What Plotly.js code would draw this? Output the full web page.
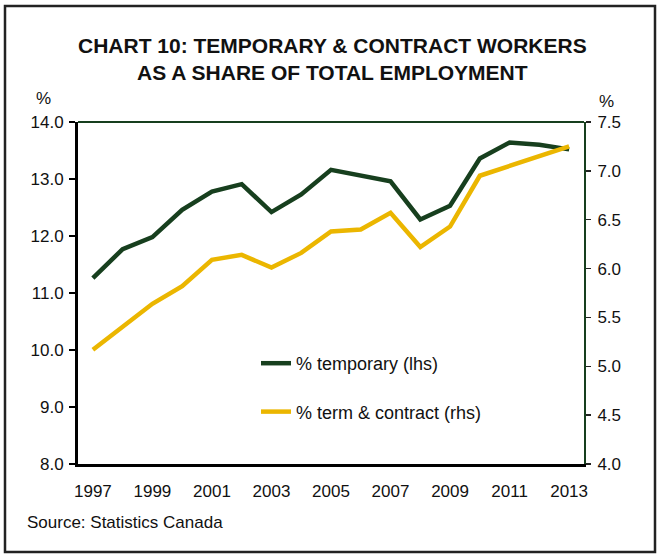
<!DOCTYPE html>
<html>
<head>
<meta charset="utf-8">
<script src="https://cdn.plot.ly/plotly-3.0.1.min.js"></script>
<style>html,body{margin:0;padding:0;background:#fff;}#chart{width:663px;height:556px;}</style>
</head>
<body>
<div id="chart"></div>
<script>
const years = [1997,1998,1999,2000,2001,2002,2003,2004,2005,2006,2007,2008,2009,2010,2011,2012,2013];
const temporary = [11.26,11.77,11.98,12.46,12.78,12.91,12.42,12.73,13.16,13.06,12.96,12.29,12.53,13.36,13.64,13.60,13.52];
const termContract = [5.17,5.41,5.64,5.82,6.09,6.14,6.01,6.16,6.38,6.40,6.57,6.22,6.43,6.95,7.05,7.16,7.25];
const xTicks = [1997,1999,2001,2003,2005,2007,2009,2011,2013];
const leftTicks = [8,9,10,11,12,13,14];
const rightTicks = [4.0,4.5,5.0,5.5,6.0,6.5,7.0,7.5];

const GREEN = '#173f1e';
const YELLOW = '#ebb600';
const W = 663, H = 556;
const L = 78, R = 79, T = 122, B = 92;
const pw = W - L - R, ph = H - T - B;
function px(x){ return (x - L) / pw; }
function py(y){ return (H - B - y) / ph; }

const font = {family: 'Liberation Sans, Arial, sans-serif', size: 17, color: '#111'};

const traces = [
  {x: years, y: temporary, type: 'scatter', mode: 'lines', name: '% temporary (lhs)',
   line: {color: GREEN, width: 4.5}, yaxis: 'y', legendgroup: 'a'},
  {x: years, y: termContract, type: 'scatter', mode: 'lines', name: '% term & contract (rhs)',
   line: {color: YELLOW, width: 4.5}, yaxis: 'y2', legendgroup: 'b'}
];

const layout = {
  width: W, height: H,
  margin: {l: L, r: R, t: T, b: B},
  paper_bgcolor: '#fff', plot_bgcolor: '#fff',
  font: font,
  showlegend: true,
  legend: {x: px(256), y: py(345), xanchor: 'left', yanchor: 'top',
           bgcolor: 'rgba(0,0,0,0)', font: {family: font.family, size: 18, color: '#111'},
           tracegroupgap: 22, itemwidth: 30},
  xaxis: {range: [1996.5, 2013.5], tickvals: xTicks, ticktext: xTicks.map(String),
          showgrid: false, zeroline: false, showline: true, linecolor: '#000', linewidth: 3,
          ticks: '', ticklabelstandoff: 10, tickfont: font, fixedrange: true},
  yaxis: {range: [8, 14], tickvals: leftTicks, ticktext: leftTicks.map(v => v.toFixed(1)),
          showgrid: false, zeroline: false, showline: true, linecolor: '#000', linewidth: 3,
          ticks: 'outside', ticklen: 6, tickwidth: 1.5, tickcolor: '#000', tickfont: font,
          ticklabelstandoff: 2},
  yaxis2: {range: [4, 7.5], tickvals: rightTicks, ticktext: rightTicks.map(v => v.toFixed(1)),
           overlaying: 'y', side: 'right', showgrid: false, zeroline: false,
           showline: true, linecolor: GREEN, linewidth: 2,
           ticks: 'outside', ticklen: 5, tickwidth: 1.5, tickcolor: '#222', tickfont: font,
           ticklabelstandoff: 3},
  yaxis3: {range: [4, 7.5], tickvals: rightTicks, showticklabels: false,
           overlaying: 'y', side: 'right', anchor: 'x', showgrid: false, zeroline: false,
           showline: false, ticks: 'inside', ticklen: 5, tickwidth: 1.5, tickcolor: '#222'},
  shapes: [
    {type: 'line', xref: 'paper', yref: 'paper', x0: 0, x1: 1, y0: 1, y1: 1,
     line: {color: GREEN, width: 2}},
    {type: 'rect', xref: 'paper', yref: 'paper', x0: px(5), x1: px(655), y0: py(552), y1: py(6),
     line: {color: '#222', width: 2.5}, fillcolor: 'rgba(0,0,0,0)', layer: 'below'}
  ],
  annotations: [
    {text: '<b>CHART 10: TEMPORARY &amp; CONTRACT WORKERS<br>AS A SHARE OF TOTAL EMPLOYMENT</b>',
     xref: 'paper', yref: 'paper', x: px(332), y: py(59), xanchor: 'center', yanchor: 'middle',
     showarrow: false, align: 'center', font: {family: font.family, size: 21, color: '#111'}},
    {text: '%', xref: 'paper', yref: 'paper', x: px(43), y: py(98), xanchor: 'center', yanchor: 'middle',
     showarrow: false, font: font},
    {text: '%', xref: 'paper', yref: 'paper', x: px(606), y: py(102), xanchor: 'center', yanchor: 'middle',
     showarrow: false, font: font},
    {text: 'Source: Statistics Canada', xref: 'paper', yref: 'paper', x: px(25), y: py(522),
     xanchor: 'left', yanchor: 'middle', showarrow: false, font: font}
  ]
};

Plotly.newPlot('chart', traces, layout, {displayModeBar: false, staticPlot: true});
</script>
</body>
</html>
